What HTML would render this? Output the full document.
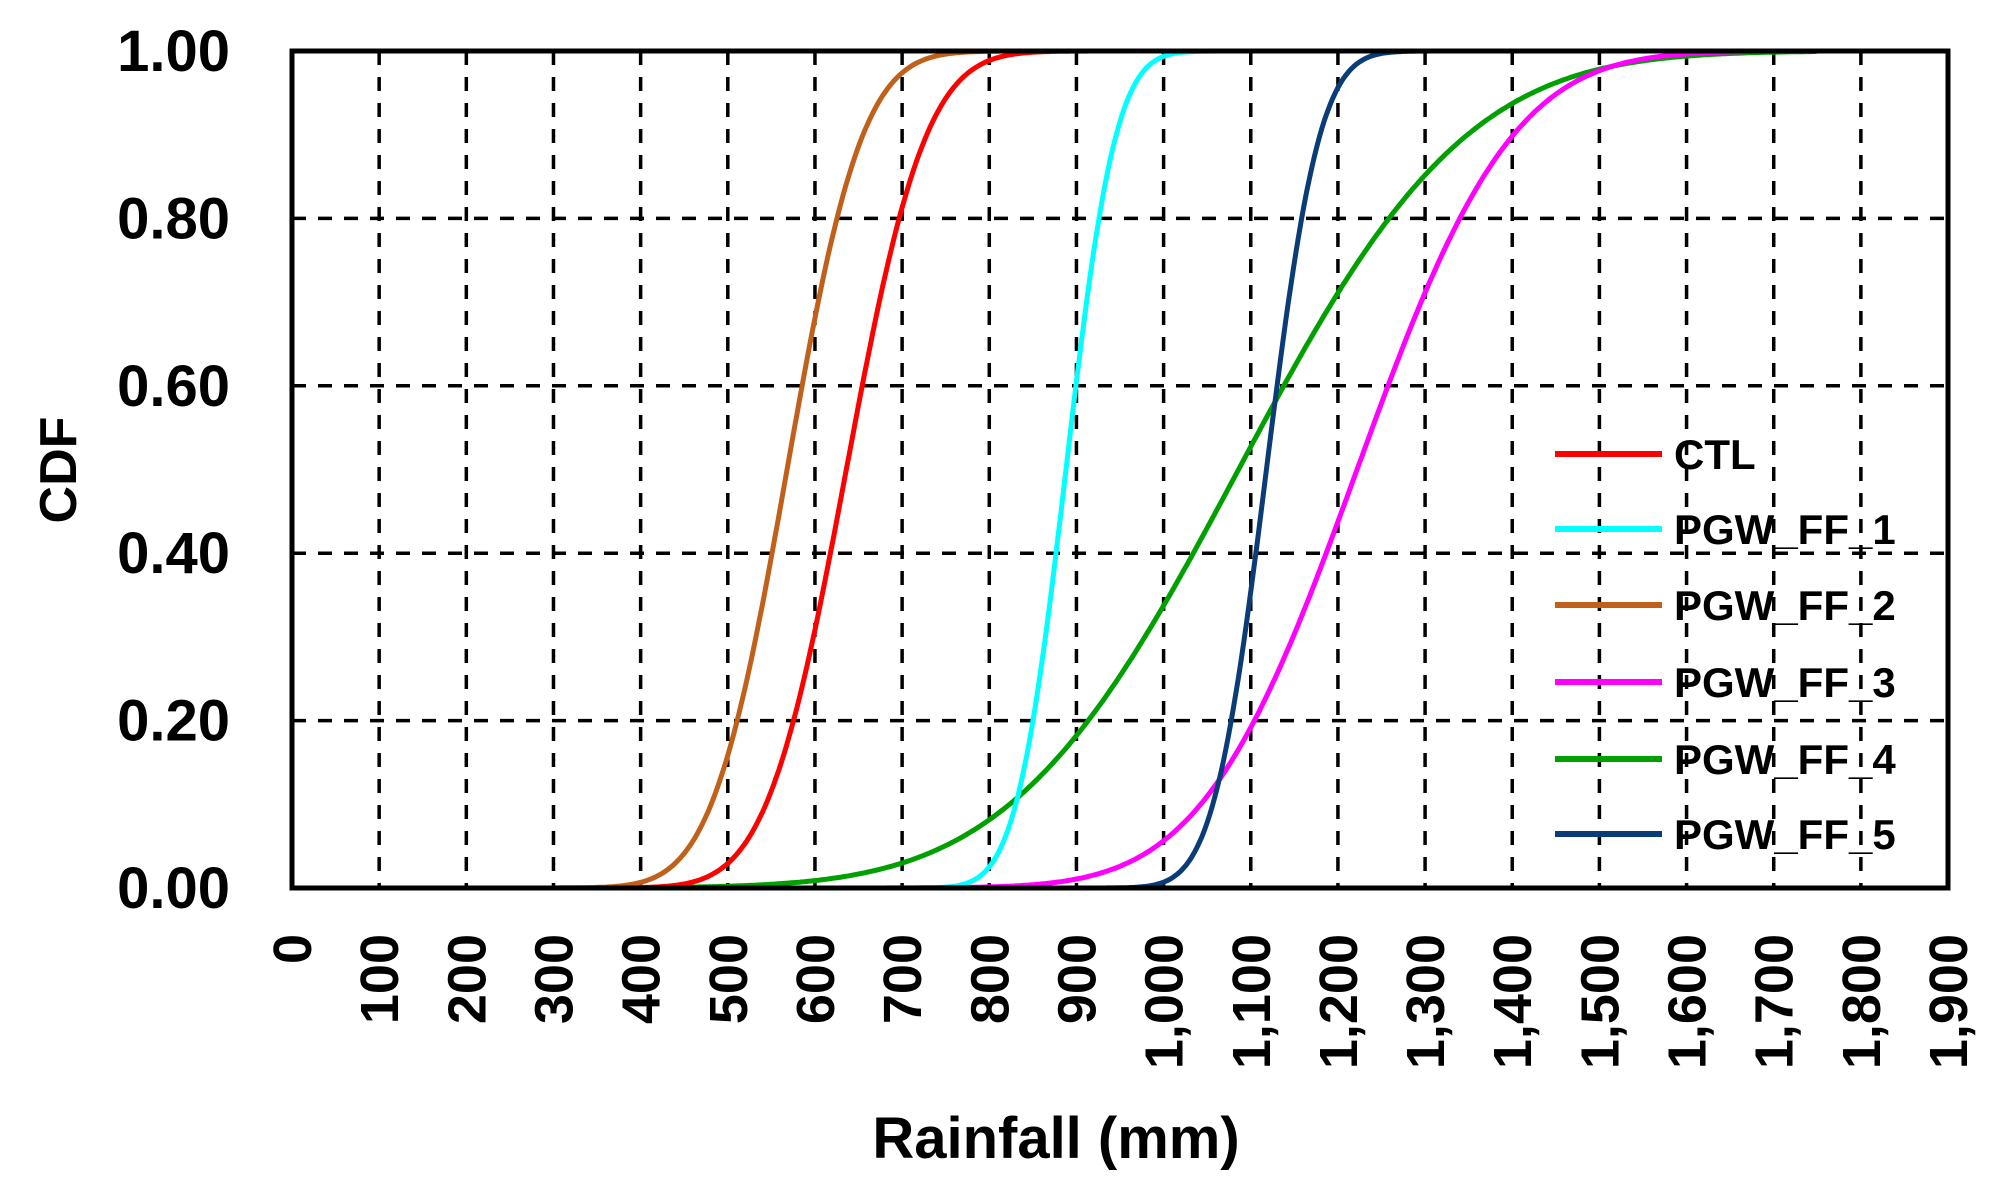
<!DOCTYPE html>
<html><head><meta charset="utf-8"><style>
html,body{margin:0;padding:0;background:#fff;}
svg{display:block;font-family:"Liberation Sans",sans-serif;font-weight:bold;}
</style></head><body>
<svg id="s" width="2000" height="1191" xmlns="http://www.w3.org/2000/svg">
<g id="grid" stroke="#000" stroke-width="3.5" stroke-dasharray="14,12"></g>
<g id="curves" fill="none" stroke-width="5"></g>
<rect x="292" y="51" width="1656" height="837" fill="none" stroke="#000" stroke-width="5"/>
<g id="ylab" font-size="58" fill="#000"></g>
<g id="xlab" font-size="54" fill="#000"></g>
<text x="1056" y="1158" font-size="58" text-anchor="middle">Rainfall (mm)</text>
<text transform="translate(76,470) rotate(-90)" font-size="52" text-anchor="middle">CDF</text>
<g id="legend" font-size="42"></g>
</svg>
<script>
var X0=292,PX=87.16,Y0=888,Y1=51;
function xm(v){return X0+v/100*PX;}
function yv(p){return Y0-(Y0-Y1)*p;}
var ns="http://www.w3.org/2000/svg";
function el(t,a,p,txt){var e=document.createElementNS(ns,t);for(var k in a)e.setAttribute(k,a[k]);if(txt)e.textContent=txt;document.getElementById(p).appendChild(e);return e;}
for(var i=1;i<19;i++){el('line',{x1:xm(i*100),x2:xm(i*100),y1:Y1,y2:Y0},'grid');}
for(var j=1;j<5;j++){el('line',{x1:X0,x2:xm(1900),y1:yv(j*0.2),y2:yv(j*0.2)},'grid');}
for(var j=0;j<=5;j++){el('text',{x:230,y:yv(j*0.2)+20,'text-anchor':'end'},'ylab',(j*0.2).toFixed(2));}
for(var i=0;i<=19;i++){var v=i*100;var s=v>=1000?('1,'+String(v-1000).padStart(3,'0')):String(v);
el('text',{transform:'translate('+(xm(v)+19)+',934) rotate(-90)','text-anchor':'end'},'xlab',s);}
function erf(x){var s=x<0?-1:1;x=Math.abs(x);var t=1/(1+0.3275911*x);var y=1-(((((1.061405429*t-1.453152027)*t)+1.421413741)*t-0.284496736)*t+0.254829592)*t*Math.exp(-x*x);return s*y;}
function cdf(x,m,s){return 0.5*(1+erf((x-m)/(s*Math.SQRT2)));}
var series=[
['CTL','#ff0000',636,72],
['PGW_FF_1','#00ffff',888,45],
['PGW_FF_2','#c0601a',568,68],
['PGW_FF_3','#ff00ff',1222,140],
['PGW_FF_4','#00a000',1086,205],
['PGW_FF_5','#0a3c78',1118,48]];
var order=[4,0,2,1,3,5];
order.forEach(function(k){var s=series[k];var pts=[];for(var v=0;v<=1750;v+=3){pts.push(xm(v).toFixed(1)+','+yv(cdf(v,s[2],s[3])).toFixed(1));}
el('polyline',{points:pts.join(' '),stroke:s[1]},'curves');});
var ly=[454,529,605,682,759,834];
series.forEach(function(s,i){el('line',{x1:1555,x2:1662,y1:ly[i],y2:ly[i],stroke:s[1],'stroke-width':6},'legend');
el('text',{x:1674,y:ly[i]+15,fill:'#000'},'legend',s[0]);});
</script>
</body></html>
